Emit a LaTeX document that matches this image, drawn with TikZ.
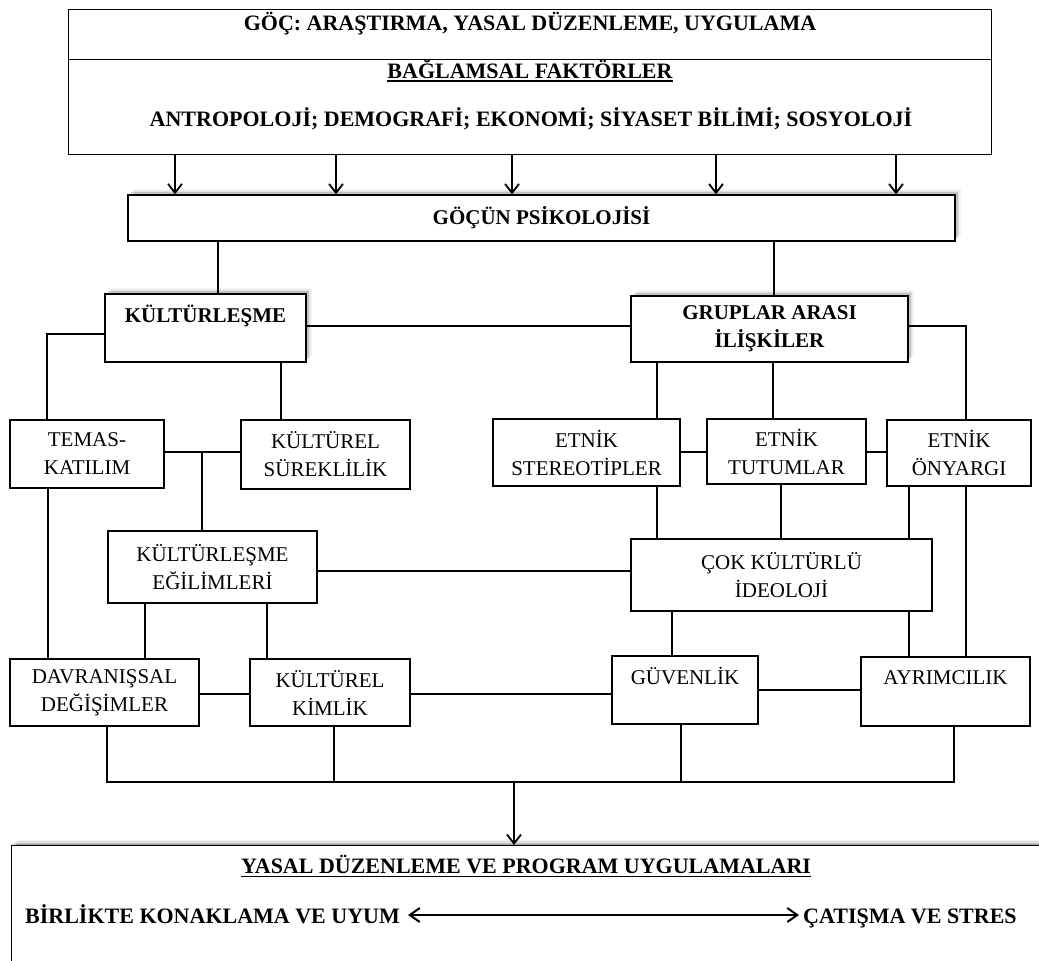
\documentclass[tikz,border=0pt]{standalone}
\usepackage{fontspec}
\setmainfont{Liberation Serif}
\usetikzlibrary{arrows.meta,shadows}
\newcommand{\ulx}[1]{\setbox0=\hbox{#1}\vtop{\copy0\kern2.2pt\hrule height1.6pt width\wd0}}
\begin{document}
\begin{tikzpicture}[x=1pt,y=-1pt,
  box/.style={draw, line width=1.3pt, fill=white, inner sep=0pt, align=center,
    font=\fontsize{21}{28}\selectfont},
  bbox/.style={box, font=\fontsize{21}{28}\selectfont\bfseries},
  plain/.style={draw, line width=1.3pt, fill=white, inner sep=0pt},
  sh/.style={general shadow={fill=black, opacity=0.16, shadow xshift=1pt, shadow yshift=1.5pt},
             general shadow={fill=black, opacity=0.12, shadow xshift=2.5pt, shadow yshift=3pt},
             general shadow={fill=black, opacity=0.08, shadow xshift=4pt, shadow yshift=4.5pt},
             general shadow={fill=black, opacity=0.05, shadow xshift=5.5pt, shadow yshift=6pt}},
  txt/.style={inner sep=0pt, font=\fontsize{22}{28}\selectfont\bfseries},
  ln/.style={line width=1.3pt},
  arr/.style={line width=1.8pt, -{Straight Barb[length=9pt,width=14pt]}},
  darr/.style={line width=2pt, {Straight Barb[length=10pt,width=14pt]}-{Straight Barb[length=10pt,width=14pt]}}
]
\useasboundingbox (0,0) rectangle (1039,961);
\clip (0,0) rectangle (1039,961);

% top box
\node[plain, anchor=north west, minimum width=923pt, minimum height=50pt] (topA) at (68,9) {};
\node[plain, anchor=north west, minimum width=923pt, minimum height=95pt] (topB) at (68,59) {};
\node[txt, anchor=base] (t1) at (530,30) {GÖÇ: ARAŞTIRMA, YASAL DÜZENLEME, UYGULAMA};
\node[txt, anchor=base] (t2) at (530,78) {\ulx{BAĞLAMSAL FAKTÖRLER}};
\node[txt, anchor=base] (t3) at (531,126) {ANTROPOLOJİ; DEMOGRAFİ; EKONOMİ; SİYASET BİLİMİ; SOSYOLOJİ};

% boxes
\node[bbox, sh, minimum width=827pt, minimum height=46pt] (psy) at (541.5,218) {GÖÇÜN PSİKOLOJİSİ};
\node[bbox, sh, minimum width=201pt, minimum height=68pt] (kult) at (205.5,328) {KÜLTÜRLEŞME\\\mbox{}};
\node[bbox, sh, minimum width=277pt, minimum height=66pt] (grup) at (769.5,329) {GRUPLAR ARASI\\İLİŞKİLER};
\node[box, minimum width=154pt, minimum height=68pt] (temas) at (87,454) {TEMAS-\\KATILIM};
\node[box, minimum width=169pt, minimum height=69pt] (surek) at (325.5,454.5) {KÜLTÜREL\\SÜREKLİLİK};
\node[box, minimum width=187pt, minimum height=67pt] (stereo) at (586.5,452.5) {ETNİK\\STEREOTİPLER};
\node[box, minimum width=159pt, minimum height=65pt] (tutum) at (786.5,451.5) {ETNİK\\TUTUMLAR};
\node[box, minimum width=144pt, minimum height=66pt] (onyargi) at (959,453) {ETNİK\\ÖNYARGI};
\node[box, minimum width=209pt, minimum height=72pt] (egil) at (212.5,567) {KÜLTÜRLEŞME\\EĞİLİMLERİ};
\node[box, minimum width=301pt, minimum height=72pt] (cok) at (781.5,575) {ÇOK KÜLTÜRLÜ\\İDEOLOJİ};
\node[box, minimum width=189pt, minimum height=67pt] (davran) at (104.5,692.5) {DAVRANIŞSAL\\DEĞİŞİMLER};
\node[box, minimum width=160pt, minimum height=67pt] (kimlik) at (330,692.5) {KÜLTÜREL\\KİMLİK};
\node[box, minimum width=146pt, minimum height=68pt] (guven) at (685,690) {GÜVENLİK\\\mbox{}};
\node[box, minimum width=169pt, minimum height=69pt] (ayrim) at (945.5,691.5) {AYRIMCILIK\\\mbox{}};

% bottom box
\node[plain, sh, anchor=north west, minimum width=1100pt, minimum height=300pt] (bot) at (11,845) {};
\node[txt, anchor=base] (bt) at (526,873) {\ulx{YASAL DÜZENLEME VE PROGRAM UYGULAMALARI}};
\node[txt, anchor=base west] (birl) at (25,923) {BİRLİKTE KONAKLAMA VE UYUM};
\node[txt, anchor=base west] (cat) at (803,923) {ÇATIŞMA VE STRES};
\draw[darr, shorten <=8pt, shorten >=4pt] (birl.east |- 0,915) -- (cat.west |- 0,915);

% arrows from top box
\foreach \xx in {175,336,512,716,896}
  \draw[arr] (topB.south -| \xx,0) -- (psy.north -| \xx,0);

% connectors
\draw[ln] (psy.south -| 218,0) -- (kult.north -| 218,0);
\draw[ln] (psy.south -| 774,0) -- (grup.north -| 774,0);
\draw[ln] (kult.east |- 0,326) -- (grup.west |- 0,326);
\draw[ln] (kult.west |- 0,334) -| (temas.north -| 47,0);
\draw[ln] (kult.south -| 281,0) -- (surek.north -| 281,0);
\draw[ln] (temas.east |- 0,452) -- (surek.west |- 0,452);
\coordinate (j1) at (202,452);
\draw[ln] (j1) -- (egil.north -| j1);
\draw[ln] (egil.east |- 0,571) -- (cok.west |- 0,571);
\draw[ln] (temas.south -| 48,0) -- (davran.north -| 48,0);
\draw[ln] (egil.south -| 145,0) -- (davran.north -| 145,0);
\draw[ln] (egil.south -| 267,0) -- (kimlik.north -| 267,0);
\draw[ln] (davran.east |- 0,694) -- (kimlik.west |- 0,694);
\draw[ln] (kimlik.east |- 0,694) -- (guven.west |- 0,694);
\draw[ln] (grup.south -| 657,0) -- (stereo.north -| 657,0);
\draw[ln] (grup.south -| 773,0) -- (tutum.north -| 773,0);
\draw[ln] (grup.east |- 0,326) -| (onyargi.north -| 966,0);
\draw[ln] (stereo.east |- 0,452) -- (tutum.west |- 0,452);
\draw[ln] (tutum.east |- 0,452) -- (onyargi.west |- 0,452);
\draw[ln] (stereo.south -| 657,0) -- (cok.north -| 657,0);
\draw[ln] (tutum.south -| 781,0) -- (cok.north -| 781,0);
\draw[ln] (onyargi.south -| 909,0) -- (cok.north -| 909,0);
\draw[ln] (onyargi.south -| 966,0) -- (ayrim.north -| 966,0);
\draw[ln] (cok.south -| 672,0) -- (guven.north -| 672,0);
\draw[ln] (cok.south -| 909,0) -- (ayrim.north -| 909,0);
\draw[ln] (guven.east |- 0,690) -- (ayrim.west |- 0,690);

% collector
\coordinate (col) at (514,782);
\draw[ln] (davran.south -| 107,0) |- (col) -| (ayrim.south -| 954,0);
\draw[ln] (kimlik.south -| 334,0) -- (col -| 334,0);
\draw[ln] (guven.south -| 681,0) -- (col -| 681,0);
\draw[arr] (col) -- (bot.north -| col);
\end{tikzpicture}
\end{document}
